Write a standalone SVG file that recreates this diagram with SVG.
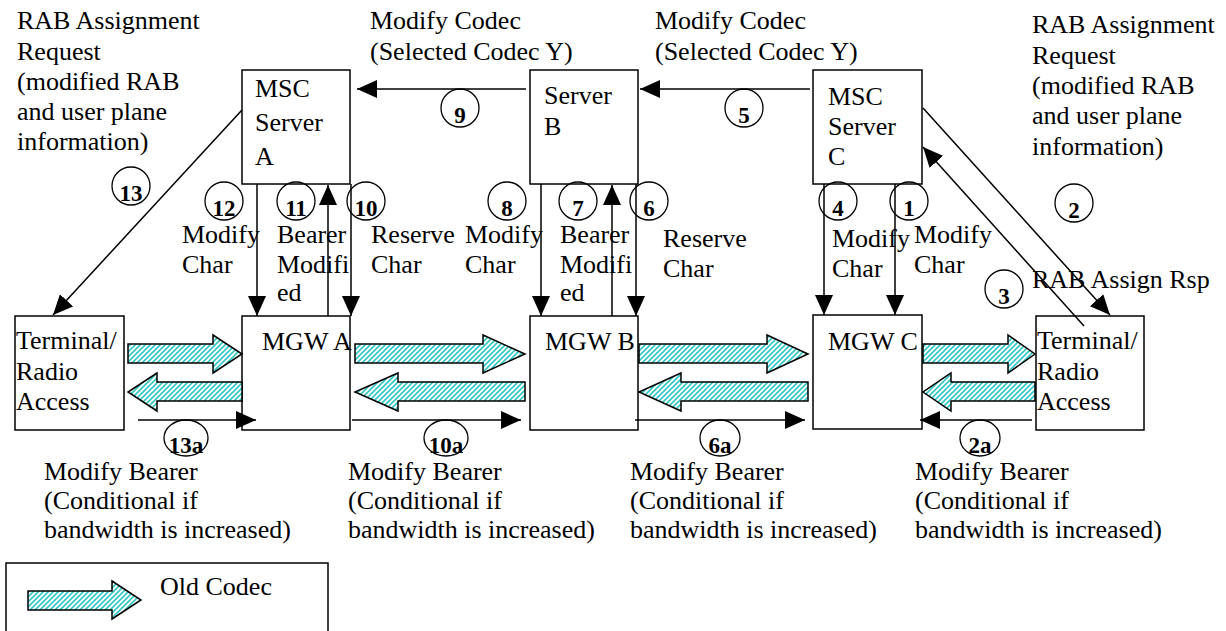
<svg xmlns="http://www.w3.org/2000/svg" width="1226" height="631" viewBox="0 0 1226 631">
<style>
text{font-family:"Liberation Serif","Times New Roman",serif;fill:#000}
.t{font-size:26px}
.n{font-size:23px;font-weight:bold;text-anchor:middle}
.box{fill:#fff;stroke:#000;stroke-width:1.5}
.c{fill:none;stroke:#000;stroke-width:1.3}
.ln{fill:none;stroke:#000;stroke-width:1.5;marker-end:url(#ah)}
.fat{fill:url(#hatch);stroke:#000;stroke-width:1.5;stroke-linejoin:miter}
</style>
<defs>
<pattern id="hatch" patternUnits="userSpaceOnUse" width="5" height="5">
<rect width="5" height="5" fill="#fff"/>
<path d="M-1,1 L1,-1 M0,5 L5,0 M4,6 L6,4" stroke="#33c6c6" stroke-width="1.6"/>
</pattern>
<marker id="ah" markerUnits="userSpaceOnUse" markerWidth="20" markerHeight="18" refX="20" refY="9" orient="auto">
<path d="M0,0 L20,9 L0,18 Z" fill="#000"/>
</marker>
</defs>
<rect width="1226" height="631" fill="#fff"/>

<g id="labels">
<text class="t" x="17" y="29">RAB Assignment</text>
<text class="t" x="17" y="60">Request</text>
<text class="t" x="17" y="90">(modified RAB</text>
<text class="t" x="17" y="120">and user plane</text>
<text class="t" x="17" y="150">information)</text>
<text class="t" x="370" y="29">Modify Codec</text>
<text class="t" x="370" y="60">(Selected Codec Y)</text>
<text class="t" x="655" y="29">Modify Codec</text>
<text class="t" x="655" y="60">(Selected Codec Y)</text>
<text class="t" x="1032" y="33">RAB Assignment</text>
<text class="t" x="1032" y="64">Request</text>
<text class="t" x="1032" y="94">(modified RAB</text>
<text class="t" x="1032" y="124">and user plane</text>
<text class="t" x="1032" y="155">information)</text>
<text class="t" x="182" y="243">Modify</text>
<text class="t" x="182" y="273">Char</text>
<text class="t" x="277" y="243">Bearer</text>
<text class="t" x="277" y="273">Modifi</text>
<text class="t" x="277" y="301">ed</text>
<text class="t" x="371" y="243">Reserve</text>
<text class="t" x="371" y="273">Char</text>
<text class="t" x="465" y="243">Modify</text>
<text class="t" x="465" y="273">Char</text>
<text class="t" x="560" y="243">Bearer</text>
<text class="t" x="560" y="273">Modifi</text>
<text class="t" x="560" y="301">ed</text>
<text class="t" x="663" y="247">Reserve</text>
<text class="t" x="663" y="277">Char</text>
<text class="t" x="832" y="247">Modify</text>
<text class="t" x="832" y="277">Char</text>
<text class="t" x="914" y="243">Modify</text>
<text class="t" x="914" y="273">Char</text>
<text class="t" x="1032" y="288">RAB Assign Rsp</text>
<text class="t" x="44" y="480">Modify Bearer</text>
<text class="t" x="44" y="509">(Conditional if</text>
<text class="t" x="44" y="538">bandwidth is increased)</text>
<text class="t" x="348" y="480">Modify Bearer</text>
<text class="t" x="348" y="509">(Conditional if</text>
<text class="t" x="348" y="538">bandwidth is increased)</text>
<text class="t" x="630" y="480">Modify Bearer</text>
<text class="t" x="630" y="509">(Conditional if</text>
<text class="t" x="630" y="538">bandwidth is increased)</text>
<text class="t" x="915" y="480">Modify Bearer</text>
<text class="t" x="915" y="509">(Conditional if</text>
<text class="t" x="915" y="538">bandwidth is increased)</text>
</g>

<g id="msc-server-a">
<rect class="box" x="242" y="70" width="108" height="114"/>
<text class="t" x="255" y="97">MSC</text>
<text class="t" x="255" y="131">Server</text>
<text class="t" x="255" y="165">A</text>
</g>
<g id="server-b">
<rect class="box" x="530" y="70" width="108" height="114"/>
<text class="t" x="544" y="104">Server</text>
<text class="t" x="544" y="135">B</text>
</g>
<g id="msc-server-c">
<rect class="box" x="813" y="70" width="109" height="114"/>
<text class="t" x="828" y="105">MSC</text>
<text class="t" x="828" y="135">Server</text>
<text class="t" x="828" y="165">C</text>
</g>
<g id="terminal-left">
<rect class="box" x="15" y="316" width="109" height="114"/>
<text class="t" x="16" y="349">Terminal/</text>
<text class="t" x="16" y="380">Radio</text>
<text class="t" x="16" y="410">Access</text>
</g>
<g id="mgw-a">
<rect class="box" x="242" y="316" width="108" height="114"/>
<text class="t" x="262" y="350">MGW A</text>
</g>
<g id="mgw-b">
<rect class="box" x="530" y="316" width="108" height="114"/>
<text class="t" x="545" y="350">MGW B</text>
</g>
<g id="mgw-c">
<rect class="box" x="813" y="315" width="109" height="114"/>
<text class="t" x="828" y="350">MGW C</text>
</g>
<g id="terminal-right">
<rect class="box" x="1036" y="316" width="108" height="114"/>
<text class="t" x="1037" y="349">Terminal/</text>
<text class="t" x="1037" y="380">Radio</text>
<text class="t" x="1037" y="410">Access</text>
</g>

<g id="connectors">
<path class="ln" d="M526,89 L357,89"/>
<path class="ln" d="M810,89 L640,89"/>
<path class="ln" d="M242,110 L53,315"/>
<path class="ln" d="M257,184 L257,316"/>
<path class="ln" d="M328,316 L328,185"/>
<path class="ln" d="M351,184 L351,316"/>
<path class="ln" d="M541,184 L541,316"/>
<path class="ln" d="M612,316 L612,185"/>
<path class="ln" d="M636,184 L636,316"/>
<path class="ln" d="M824,184 L824,315"/>
<path class="ln" d="M895,184 L895,315"/>
<path class="ln" d="M923,108 L1110,315"/>
<path class="ln" d="M1084,326 L923,147"/>
<path class="ln" d="M138,420 L256,420"/>
<path class="ln" d="M352,420 L521,420"/>
<path class="ln" d="M635,420 L805,420"/>
<path class="ln" d="M1032,420 L920,420"/>
<path class="fat" d="M128,344 H213 V335 L242,354 L213,373 V363 H128 Z"/>
<path class="fat" d="M242,382 H157 V373 L128,392 L157,411 V401 H242 Z"/>
<path class="fat" d="M355,344 H483 V335 L525,354 L483,373 V363 H355 Z"/>
<path class="fat" d="M525,382 H398 V373 L355,392 L398,411 V401 H525 Z"/>
<path class="fat" d="M639,344 H767 V335 L808,354 L767,373 V363 H639 Z"/>
<path class="fat" d="M808,382 H681 V373 L639,392 L681,411 V401 H808 Z"/>
<path class="fat" d="M923,344 H1008 V335 L1035,354 L1008,373 V363 H923 Z"/>
<path class="fat" d="M1035,382 H951 V373 L923,392 L951,411 V401 H1035 Z"/>
</g>

<g id="step-numbers">
<circle class="c" cx="131" cy="186" r="19"/><text class="n" x="131" y="201">13</text>
<circle class="c" cx="224" cy="201" r="19"/><text class="n" x="224" y="216">12</text>
<circle class="c" cx="296" cy="201" r="19"/><text class="n" x="296" y="216">11</text>
<circle class="c" cx="366" cy="201" r="19"/><text class="n" x="366" y="216">10</text>
<circle class="c" cx="507" cy="201" r="19"/><text class="n" x="507" y="216">8</text>
<circle class="c" cx="578" cy="201" r="19"/><text class="n" x="578" y="216">7</text>
<circle class="c" cx="649" cy="201" r="19"/><text class="n" x="649" y="216">6</text>
<circle class="c" cx="838" cy="201" r="19"/><text class="n" x="838" y="216">4</text>
<circle class="c" cx="909" cy="201" r="19"/><text class="n" x="909" y="216">1</text>
<circle class="c" cx="1074" cy="203" r="19"/><text class="n" x="1074" y="218">2</text>
<circle class="c" cx="1004" cy="289" r="19"/><text class="n" x="1004" y="304">3</text>
<circle class="c" cx="460" cy="108" r="19"/><text class="n" x="460" y="123">9</text>
<circle class="c" cx="744" cy="108" r="19"/><text class="n" x="744" y="123">5</text>
<ellipse class="c" cx="186" cy="438" rx="22" ry="18"/><text class="n" x="186" y="453">13a</text>
<ellipse class="c" cx="446" cy="438" rx="22" ry="18"/><text class="n" x="446" y="453">10a</text>
<ellipse class="c" cx="720" cy="438" rx="20" ry="18"/><text class="n" x="720" y="453">6a</text>
<ellipse class="c" cx="980" cy="438" rx="20" ry="18"/><text class="n" x="980" y="453">2a</text>
</g>

<g id="legend">
<rect class="box" x="6" y="563" width="322" height="80"/>
<path class="fat" d="M28,591 H112 V581 L141,600 L112,619 V610 H28 Z"/>
<text class="t" x="160" y="595">Old Codec</text>
</g>
</svg>
